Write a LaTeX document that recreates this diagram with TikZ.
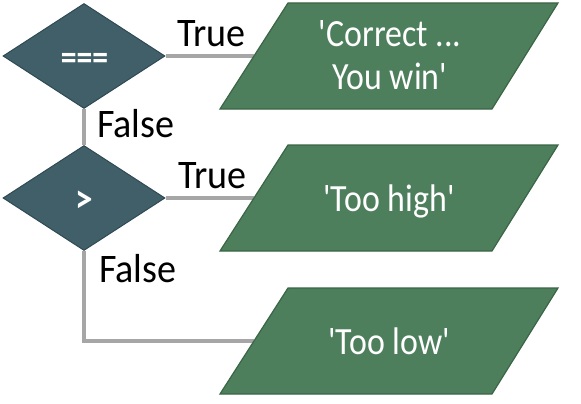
\documentclass[tikz,border=0pt]{standalone}
\usepackage{fontspec}
\setmainfont{Carlito}[FakeStretch=0.88,Ligatures=TeXOff]
\newfontfamily\lblfont{Carlito}[FakeStretch=0.94,Ligatures=TeXOff]
\usetikzlibrary{backgrounds}
\usetikzlibrary{shapes.geometric}
\definecolor{decfill}{HTML}{405F69}
\definecolor{decdraw}{HTML}{2F4A53}
\definecolor{outfill}{HTML}{4E7F5C}
\definecolor{outdraw}{HTML}{3A6546}
\definecolor{conncol}{HTML}{A6A6A6}
\begin{document}
\begin{tikzpicture}[x=1pt,y=-1pt,
  decision/.style={diamond, draw=decdraw, fill=decfill, line width=1pt,
    minimum width=162pt, minimum height=105pt, inner sep=0pt},
  outshape/.style={draw=outdraw, fill=outfill, line width=1.2pt, line join=miter},
  outtext/.style={text=white, align=center, inner sep=0pt,
    font=\fontsize{38.5}{43}\selectfont},
  dectext/.style={text=white, inner sep=0pt, font=\fontsize{36}{40}\selectfont},
  lbl/.style={anchor=base west, inner sep=0pt, font=\lblfont\fontsize{40.5}{44}\selectfont},
  conn/.style={draw=conncol, line width=4pt, line join=miter}]
\useasboundingbox (0,0) rectangle (581,404);
% decisions
\node[decision] (d1) at (84,56) {};
\node[decision] (d2) at (84,198) {};
\node[dectext, font=\bfseries\fontsize{36}{40}\selectfont] (d1t) at (84.5,61) {===};
\node[dectext, font=\bfseries\fontsize{40}{44}\selectfont] (d2t) at (84.5,202) {>};
% outputs
\path[outshape] (220,109) -- (288,3) -- (558,3) -- (492,109) -- cycle;
\path[outshape] (220,251) -- (288,145) -- (558,145) -- (492,251) -- cycle;
\path[outshape] (220,394) -- (288,288) -- (558,288) -- (492,394) -- cycle;
\coordinate (p1w) at (254,56);
\coordinate (p2w) at (254,198);
\coordinate (p3w) at (254,341);
\node[outtext] (p1) at (390,55) {'Correct ...\\You win'};
\node[outtext, anchor=base] (p2) at (389,211) {'Too high'};
\node[outtext, anchor=base] (p3) at (389,354) {'Too low'};
% labels
\node[lbl] (t1) at (177,46.7) {True};
\node[lbl] (f1) at (97,137) {False};
\node[lbl] (t2) at (178,188) {True};
\node[lbl] (f2) at (99,282) {False};
% connectors
\begin{scope}[on background layer]
\draw[conn] (d1.east) -- (p1w);
\draw[conn] (d1.south) -- (d2.north);
\draw[conn] (d2.east) -- (p2w);
\draw[conn] (d2.south) |- (p3w);
\end{scope}
\end{tikzpicture}
\end{document}
